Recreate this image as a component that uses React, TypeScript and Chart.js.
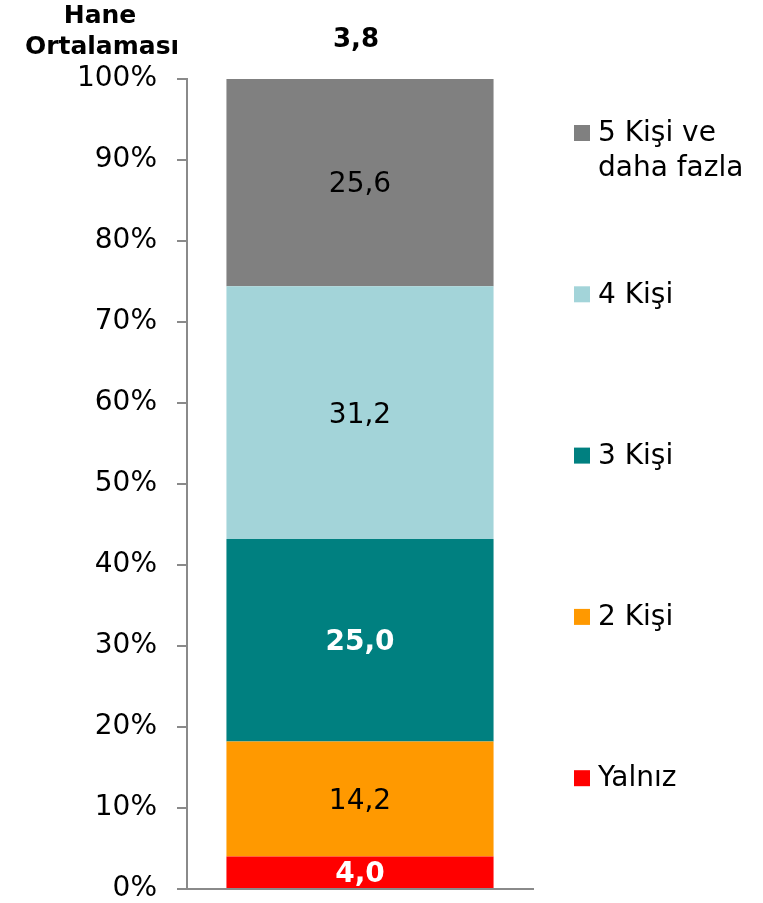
import React, { useEffect, useRef } from "react";
import { Chart, registerables } from "chart.js";

Chart.register(...registerables);

const categories = [""];
const seriesLabels = ["Yalnız", "2 Kişi", "3 Kişi", "4 Kişi", "5 Kişi ve daha fazla"];
const legendLines = [["Yalnız"], ["2 Kişi"], ["3 Kişi"], ["4 Kişi"], ["5 Kişi ve", "daha fazla"]];
const yalnizValues = [4.0];
const ikiKisiValues = [14.2];
const ucKisiValues = [25.0];
const dortKisiValues = [31.2];
const besKisiValues = [25.6];
const seriesColors = ["#FF0000", "#FF9900", "#008080", "#A3D4D9", "#808080"];
const labelBold = [true, false, true, false, false];
const labelColors = ["#FFFFFF", "#000000", "#FFFFFF", "#000000", "#000000"];
const householdAverage = "3,8";
const titleLines = ["Hane", "Ortalaması"];
const yTickValues = [0, 10, 20, 30, 40, 50, 60, 70, 80, 90, 100];

const FONT = "'DejaVu Sans', Verdana, sans-serif";
const AXIS_COLOR = "#8A8A8A";

const fmt = (v: number) => v.toFixed(1).replace(".", ",");

const overlayPlugin = {
  id: "overlay",
  afterDatasetsDraw(chart: any) {
    const ctx = chart.ctx;
    ctx.save();
    ctx.textAlign = "center";
    ctx.textBaseline = "middle";
    chart.data.datasets.forEach((ds: any, i: number) => {
      const meta = chart.getDatasetMeta(i);
      meta.data.forEach((bar: any, j: number) => {
        const { x, y, base } = bar.getProps(["x", "y", "base"], true);
        ctx.font = `${labelBold[i] ? "bold " : ""}28px ${FONT}`;
        ctx.fillStyle = labelColors[i];
        ctx.fillText(fmt(ds.data[j]), x, (y + base) / 2 + 2.5);
      });
    });
    // header: average
    const meta0 = chart.getDatasetMeta(0);
    const barX = meta0.data[0].x;
    ctx.fillStyle = "#000";
    ctx.font = `bold 26px ${FONT}`;
    ctx.fillText(householdAverage, barX - 4, 40);
    ctx.font = `bold 25px ${FONT}`;
    ctx.fillText(titleLines[0], 100, 16);
    ctx.fillText(titleLines[1], 102, 47);
    // legend
    const legX = 574;
    const legTop = 133;
    const legStep = 161.3;
    const n = seriesLabels.length;
    ctx.textAlign = "left";
    ctx.font = `28px ${FONT}`;
    for (let k = 0; k < n; k++) {
      const idx = n - 1 - k;
      const cy = legTop + k * legStep;
      ctx.fillStyle = seriesColors[idx];
      ctx.fillRect(legX, cy - 8, 16, 16);
      ctx.fillStyle = "#000";
      legendLines[idx].forEach((line, li) => {
        ctx.fillText(line, legX + 24, cy + 1 + li * 35);
      });
    }
    ctx.restore();
  },
};

export default function App() {
  const ref = useRef<HTMLCanvasElement>(null);
  useEffect(() => {
    const seriesValues = [yalnizValues, ikiKisiValues, ucKisiValues, dortKisiValues, besKisiValues];
    const chart = new Chart(ref.current as HTMLCanvasElement, {
      type: "bar",
      data: {
        labels: categories,
        datasets: seriesValues.map((vals, i) => ({
          label: seriesLabels[i],
          data: vals,
          backgroundColor: seriesColors[i],
          borderWidth: 0,
          categoryPercentage: 1,
          barPercentage: 0.772,
        })),
      },
      options: {
        responsive: false,
        animation: false,
        layout: { padding: { top: 79, bottom: 14, left: 0, right: 230 } },
        plugins: {
          legend: { display: false },
          tooltip: { enabled: false },
          title: { display: false },
        },
        scales: {
          x: {
            stacked: true,
            afterFit(scale: any) {
              scale.height = 0;
              scale.paddingLeft = 0;
              scale.paddingRight = 0;
            },
            ticks: { display: false },
            grid: { display: false },
            border: { display: true, color: AXIS_COLOR, width: 2 },
          },
          y: {
            stacked: true,
            min: 0,
            max: 100,
            afterFit(scale: any) {
              scale.width = 187;
              scale.paddingTop = 0;
              scale.paddingBottom = 0;
            },
            afterBuildTicks(scale: any) {
              scale.ticks = yTickValues.map((v) => ({ value: v }));
            },
            ticks: {
              padding: 20,
              color: "#000",
              font: { family: FONT, size: 28, lineHeight: 1 },
              callback: (v: any) => `${v}%`,
            },
            grid: {
              drawOnChartArea: false,
              drawTicks: true,
              tickLength: 10,
              color: AXIS_COLOR,
              lineWidth: 2,
            },
            border: { display: true, color: AXIS_COLOR, width: 2 },
          },
        },
      },
      plugins: [overlayPlugin],
    });
    return () => chart.destroy();
  }, []);
  return (
    <div style={{ position: "absolute", left: 0, top: 0, width: 763, height: 903, background: "#fff" }}>
      <canvas ref={ref} width={763} height={903} style={{ display: "block" }} />
    </div>
  );
}
